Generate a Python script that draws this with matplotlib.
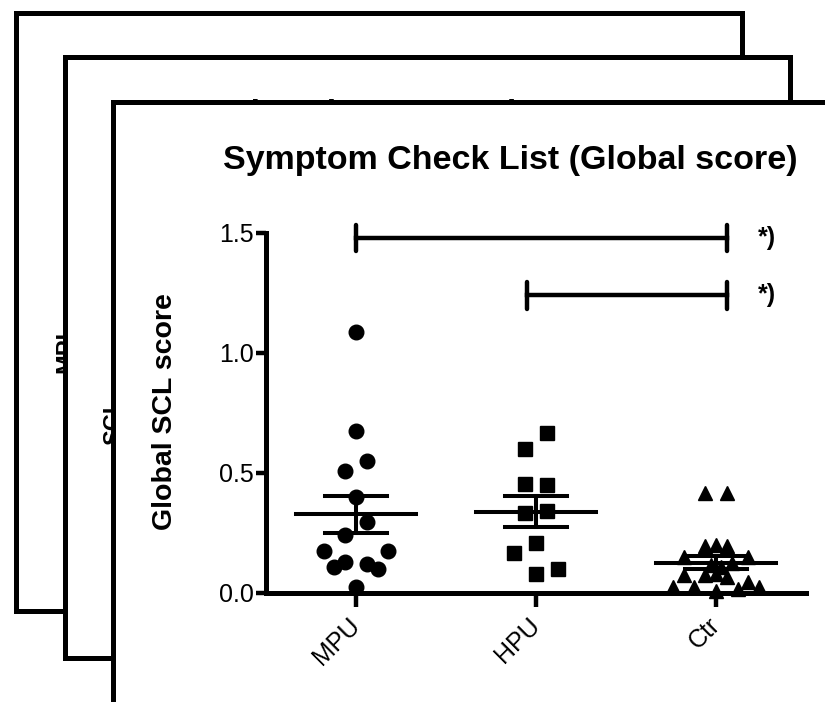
import numpy as np
import matplotlib
matplotlib.use("Agg")
import matplotlib.pyplot as plt
from matplotlib.patches import Rectangle

plt.rcParams['font.family'] = ['Liberation Sans', 'DejaVu Sans']

# group names and scores
groups = ['MPU', 'HPU', 'Ctr']
mpu = [1.086, 0.675, 0.551, 0.508, 0.399, 0.297, 0.242, 0.176, 0.176,
       0.130, 0.110, 0.119, 0.099, 0.024]
hpu = [0.665, 0.599, 0.454, 0.450, 0.332, 0.343, 0.207, 0.165, 0.099, 0.078]
ctr = [0.415, 0.415, 0.197, 0.200, 0.197, 0.151, 0.151, 0.117, 0.110, 0.125,
       0.075, 0.075, 0.065, 0.080, 0.026, 0.026, 0.045, 0.026, 0.017, 0.010]

# horizontal spread of the dots (in marker half-widths), like prism does it
mpu_slot = [0, 0, 1, -1, 0, 1, -1, -3, 3, -1, -2, 1, 2, 0]
hpu_slot = [1, -1, -1, 1, -1, 1, 0, -2, 2, 0]
ctr_slot = [-1, 1, -1, 0, 1, -3, 3, -0.5, 0.5, 1.5, -3, -1, 1, 0,
            -4, -2, 3, 4, 2, 0]

# significance brackets: (from group, to group, height), label
brackets = [(0, 2.06, 1.48), (0.95, 2.06, 1.24)]
bracket_labels = ['*)', '*)']

yticks = [0.0, 0.5, 1.0, 1.5]

fig = plt.figure(figsize=(8.25, 7.02), dpi=100)

# stacked "pages" behind the chart, in pixel coords
bg = fig.add_axes([0, 0, 1, 1])
bg.set_xlim(0, 825)
bg.set_ylim(702, 0)
bg.axis('off')

bg.add_patch(Rectangle((15.5, 12.5), 726.5, 598.5, fc='white', ec='black', lw=3.6, zorder=1))
bg.text(54, 352, 'MPI', rotation=90, fontsize=17, fontweight='bold',
        ha='left', va='center', zorder=1.5)
bg.add_patch(Rectangle((64.5, 56.5), 725.5, 601, fc='white', ec='black', lw=3.6, zorder=2))
bg.text(432, 123, 'Subscale: Depression score', fontsize=24, fontweight='bold',
        ha='center', va='baseline', zorder=2.5)
bg.text(102, 421, 'SCL', rotation=90, fontsize=17, fontweight='bold',
        ha='left', va='center', zorder=2.5)
bg.add_patch(Rectangle((112.5, 101.5), 800, 700, fc='white', ec='black', lw=3.6, zorder=3))

fig.text(510 / 825, 1 - 169 / 702, 'Symptom Check List (Global score)', fontsize=24.5,
         fontweight='bold', ha='center', va='baseline')
fig.text(165 / 825, 1 - 412 / 702, 'Global SCL score', fontsize=20.5,
         fontweight='bold', rotation=90, ha='center', va='center')

ax = fig.add_axes([266 / 825, 109 / 702, 540 / 825, 360 / 702])
ax.set_zorder(2)
ax.patch.set_visible(False)

markers = ['o', 's', '^']
sizes = [10.5, 10, 9.5]
step = 0.06
for i, (vals, slots) in enumerate([(mpu, mpu_slot), (hpu, hpu_slot), (ctr, ctr_slot)]):
    vals = np.array(vals)
    xs = i + step * np.array(slots)
    ax.plot(xs, vals, linestyle='none', marker=markers[i], ms=sizes[i],
            color='black', clip_on=False, zorder=3)
    m = vals.mean()
    sem = vals.std(ddof=1) / np.sqrt(len(vals))
    ax.plot([i - 0.334, i + 0.334], [m, m], color='black', lw=2.9, zorder=4)
    ax.plot([i - 0.173, i + 0.173], [m + sem, m + sem], color='black', lw=2.9, zorder=4)
    ax.plot([i - 0.173, i + 0.173], [m - sem, m - sem], color='black', lw=2.9, zorder=4)
    ax.plot([i, i], [m - sem, m + sem], color='black', lw=2.9, zorder=4)

for (x0, x1, y), lab in zip(brackets, bracket_labels):
    ax.plot([x0, x1], [y, y], color='black', lw=3.2, clip_on=False)
    for xe in (x0, x1):
        ax.plot([xe, xe], [y - 0.055, y + 0.055], color='black', lw=3.2,
                solid_capstyle='round', clip_on=False)
    ax.text(x1 + 0.17, y, lab, fontsize=18, fontweight='bold',
            ha='left', va='center')

ax.set_xlim(-0.5, 2.5)
ax.set_ylim(0, 1.5)
ax.spines['top'].set_visible(False)
ax.spines['right'].set_visible(False)
for s in ('left', 'bottom'):
    ax.spines[s].set_linewidth(3.6)
ax.set_yticks(yticks)
ax.set_yticklabels(['%.1f' % t for t in yticks])
ax.set_xticks(range(len(groups)))
ax.set_xticklabels(groups, rotation=45, ha='right', va='center', rotation_mode='anchor')
ax.tick_params(axis='y', length=7, width=3.2, labelsize=18, pad=2)
ax.tick_params(axis='x', length=10, width=3.2, labelsize=18, pad=10.5)

fig.savefig('out.png', dpi=100)
